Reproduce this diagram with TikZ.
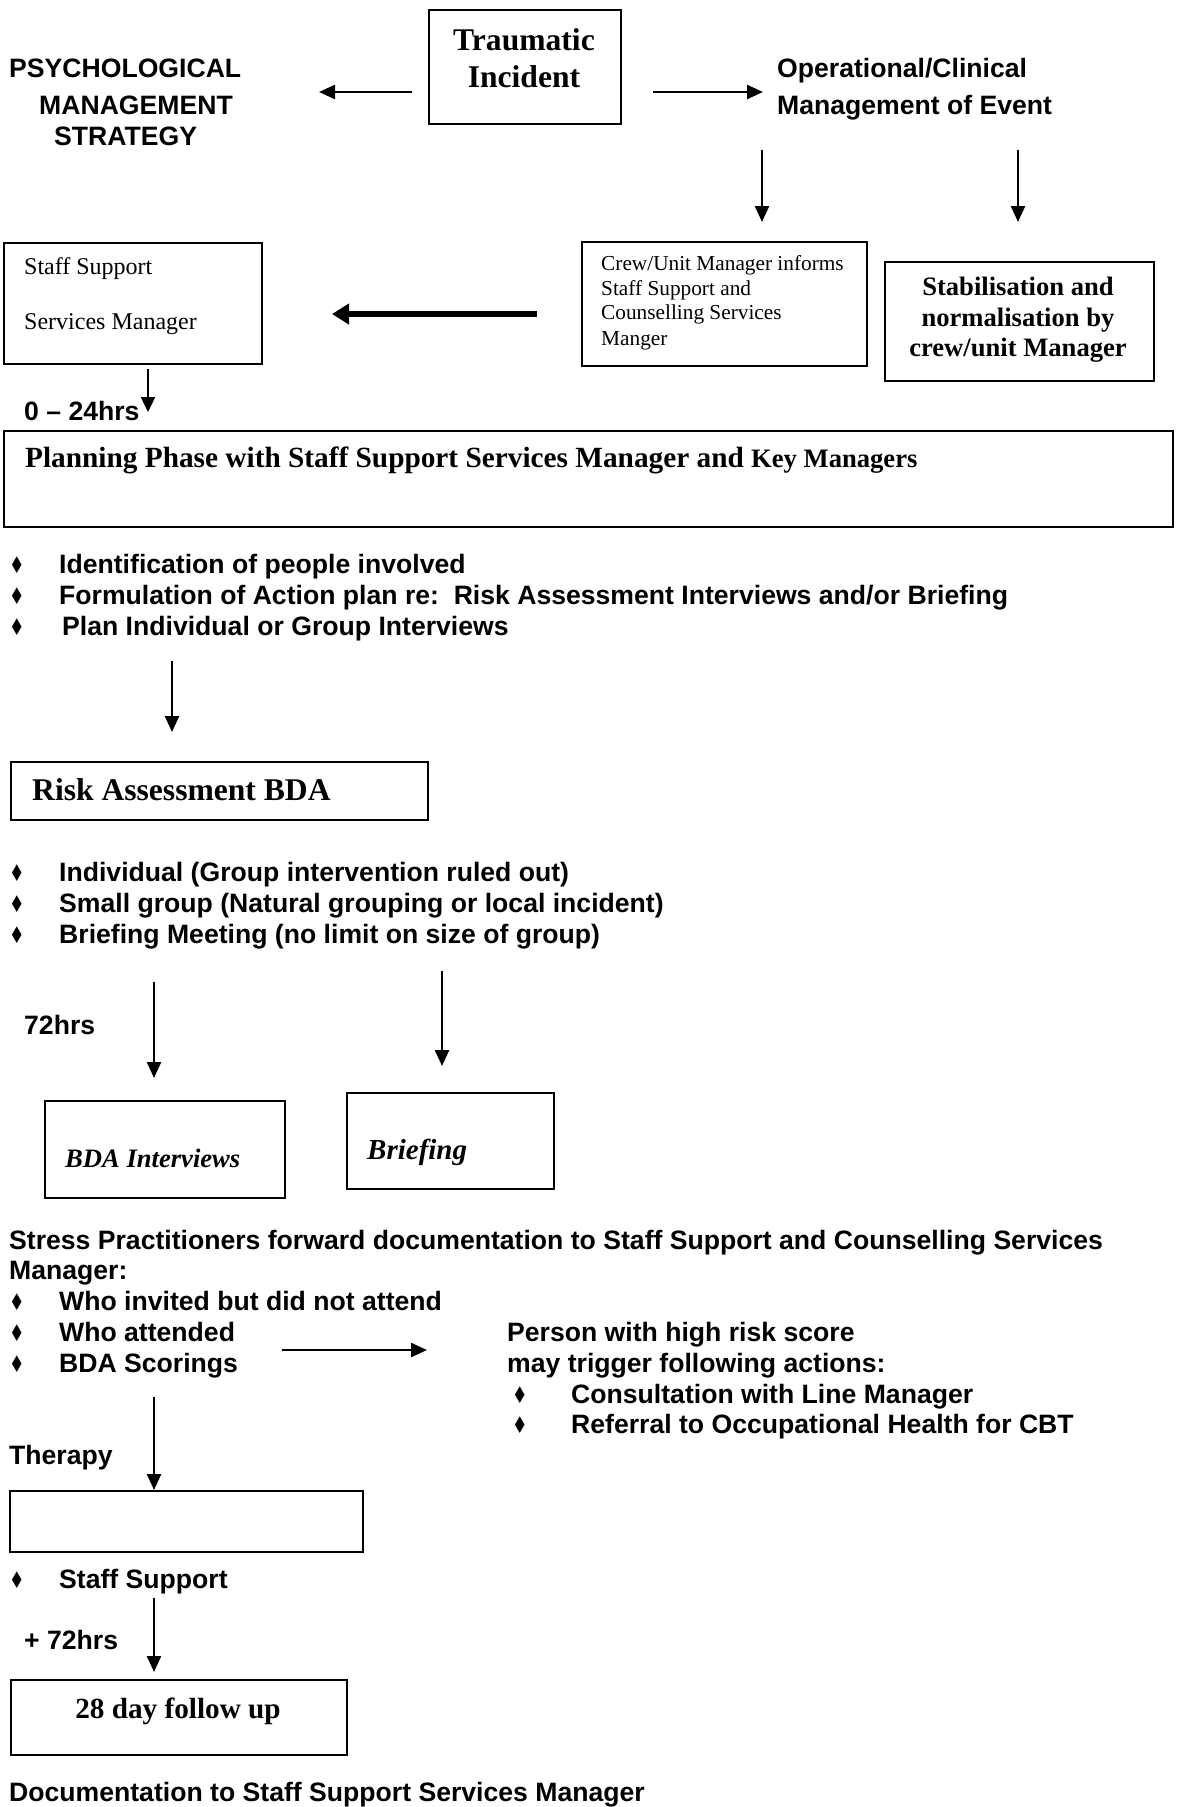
\documentclass[tikz,border=0pt]{standalone}
\usepackage{fontspec}
\usepackage{graphicx}
\setmainfont{Liberation Serif}
\setsansfont{Liberation Sans}
\newfontfamily\djv{DejaVu Sans}
\usetikzlibrary{arrows.meta}
\newcommand\dmd{{\djv\fontsize{23}{23}\selectfont\scalebox{0.75}[1]{♦}}}
\begin{document}
\begin{tikzpicture}[x=1pt,y=-1pt,
  box/.style={draw, line width=1.9pt, inner sep=0pt, anchor=north west},
  ar/.style={-{Triangle[length=16pt,width=14pt]}, line width=2.4pt},
  tar/.style={-{Triangle[length=17pt,width=20pt]}, line width=6.5pt},
  A/.style={inner sep=0pt, anchor=base west, font=\sffamily\bfseries\fontsize{26.6}{30}\selectfont},
  TB/.style={inner sep=0pt, anchor=base west, font=\rmfamily\bfseries\fontsize{26.6}{30.7}\selectfont},
  TR/.style={inner sep=0pt, anchor=base west, font=\rmfamily\fontsize{21.3}{25}\selectfont},
  TBI/.style={inner sep=0pt, anchor=base west, font=\rmfamily\bfseries\itshape\fontsize{26.6}{30}\selectfont},
  BL/.style={inner sep=0pt, anchor=base west}
]
\useasboundingbox (0,0) rectangle (1176,1807);

% ---- top row
\node[box, minimum width=192pt, minimum height=114pt] (ti) at (428,9) {};
\node[TB, font=\rmfamily\bfseries\fontsize{31.6}{37}\selectfont, anchor=base] (tit1) at (524,50) {Traumatic};
\node[TB, font=\rmfamily\bfseries\fontsize{31.6}{37}\selectfont, anchor=base] (tit2) at (524,87) {Incident};

\node[A] (ps1) at (9,77) {PSYCHOLOGICAL};
\node[A] (ps2) at (39,114) {MANAGEMENT};
\node[A] (ps3) at (54,145) {STRATEGY};

\node[A] (op1) at (777,77) {Operational/Clinical};
\node[A] (op2) at (777,114) {Management of Event};

\coordinate (a1s) at (412,92); \coordinate (a1e) at (319,92);
\coordinate (a2s) at (653,92); \coordinate (a2e) at (763,92);
\draw[ar] (a1s) -- (a1e);
\draw[ar] (a2s) -- (a2e);

\coordinate (a3s) at (762,150); \coordinate (a3e) at (762,222);
\coordinate (a4s) at (1018,150); \coordinate (a4e) at (1018,222);
\draw[ar] (a3s) -- (a3e);
\draw[ar] (a4s) -- (a4e);

% ---- second row
\node[box, minimum width=258pt, minimum height=121pt] (ss) at (3,242) {};
\node[TR, font=\rmfamily\fontsize{24}{28}\selectfont] (ss1) at (24,274) {Staff Support};
\node[TR, font=\rmfamily\fontsize{24}{28}\selectfont] (ss2) at (24,329) {Services Manager};

\node[box, minimum width=285pt, minimum height=124pt] (cr) at (581,241) {};
\node[TR] (cr1) at (601,270) {Crew/Unit Manager informs};
\node[TR] (cr2) at (601,295) {Staff Support and};
\node[TR] (cr3) at (601,319) {Counselling Services};
\node[TR] (cr4) at (601,345) {Manger};

\node[box, minimum width=269pt, minimum height=119pt] (st) at (884,261) {};
\node[TB, anchor=base] (st1) at (1018,295) {Stabilisation and};
\node[TB, anchor=base] (st2) at (1018,326) {normalisation by};
\node[TB, anchor=base] (st3) at (1018,356) {crew/unit Manager};

\coordinate (tks) at (537,314); \coordinate (tke) at (332,314);
\draw[tar] (tks) -- (tke);

\coordinate (a5e) at (148,412);
\draw[ar, -{Triangle[length=15pt,width=14pt]}] (ss.south -| a5e) ++(0,4) -- (a5e);
\node[A] (h24) at (24,420) {0 – 24hrs};

% ---- planning
\node[box, minimum width=1169pt, minimum height=96pt] (pl) at (3,430) {};
\node[TB, font=\rmfamily\bfseries\fontsize{29.3}{33}\selectfont] (pl1) at (25,467) {Planning Phase with Staff Support Services Manager and \fontsize{26.6}{30}\selectfont Key Managers};

\node[BL] (b11) at (9,573) {\dmd};
\node[A] (t11) at (59,573) {Identification of people involved};
\node[BL] (b12) at (9,604) {\dmd};
\node[A] (t12) at (59,604) {Formulation of Action plan re:\ \ Risk Assessment Interviews and/or Briefing};
\node[BL] (b13) at (9,635) {\dmd};
\node[A] (t13) at (62,635) {Plan Individual or Group Interviews};

\coordinate (a6s) at (172,661); \coordinate (a6e) at (172,732);
\draw[ar] (a6s) -- (a6e);

% ---- risk assessment
\node[box, minimum width=417pt, minimum height=58pt] (ra) at (10,761) {};
\node[TB, font=\rmfamily\bfseries\fontsize{31.6}{36}\selectfont] (ra1) at (32,800) {Risk Assessment BDA};

\node[BL] (b21) at (9,881) {\dmd};
\node[A] (t21) at (59,881) {Individual (Group intervention ruled out)};
\node[BL] (b22) at (9,912) {\dmd};
\node[A] (t22) at (59,912) {Small group (Natural grouping or local incident)};
\node[BL] (b23) at (9,943) {\dmd};
\node[A] (t23) at (59,943) {Briefing Meeting (no limit on size of group)};

\node[A] (h72) at (24,1034) {72hrs};
\coordinate (a7s) at (154,982); \coordinate (a7e) at (154,1078);
\coordinate (a8s) at (442,971); \coordinate (a8e) at (442,1066);
\draw[ar] (a7s) -- (a7e);
\draw[ar] (a8s) -- (a8e);

\node[box, minimum width=240pt, minimum height=97pt] (bi) at (44,1100) {};
\node[TBI] (bi1) at (65,1167) {BDA Interviews};
\node[box, minimum width=207pt, minimum height=96pt] (br) at (346,1092) {};
\node[TBI, font=\rmfamily\bfseries\itshape\fontsize{29}{33}\selectfont] (br1) at (367,1159) {Briefing};

% ---- documentation
\node[A] (sp1) at (9,1249) {Stress Practitioners forward documentation to Staff Support and Counselling Services};
\node[A] (sp2) at (9,1279) {Manager:};
\node[BL] (b31) at (9,1310) {\dmd};
\node[A] (t31) at (59,1310) {Who invited but did not attend};
\node[BL] (b32) at (9,1341) {\dmd};
\node[A] (t32) at (59,1341) {Who attended};
\node[BL] (b33) at (9,1372) {\dmd};
\node[A] (t33) at (59,1372) {BDA Scorings};

\coordinate (a9s) at (282,1350); \coordinate (a9e) at (427,1350);
\draw[ar] (a9s) -- (a9e);

\node[A] (pr1) at (507,1341) {Person with high risk score};
\node[A] (pr2) at (507,1372) {may trigger following actions:};
\node[BL] (b41) at (512,1403) {\dmd};
\node[A] (t41) at (571,1403) {Consultation with Line Manager};
\node[BL] (b42) at (512,1433) {\dmd};
\node[A] (t42) at (571,1433) {Referral to Occupational Health for CBT};

\node[A] (th) at (9,1464) {Therapy};
\node[box, minimum width=353pt, minimum height=61pt] (tb) at (9,1490) {};
\coordinate (a10s) at (154,1397);
\draw[ar] (a10s) -- (a10s |- tb.north);

\node[BL] (b51) at (9,1588) {\dmd};
\node[A] (t51) at (59,1588) {Staff Support};

\node[A] (p72) at (24,1649) {+ 72hrs};
\coordinate (a11s) at (154,1598); \coordinate (a11e) at (154,1672);
\draw[ar] (a11s) -- (a11e);

\node[box, minimum width=336pt, minimum height=75pt] (fu) at (10,1679) {};
\node[TB, font=\rmfamily\bfseries\fontsize{29.2}{33}\selectfont, anchor=base] (fu1) at (178,1718) {28 day follow up};

\node[A] (dc) at (9,1801) {Documentation to Staff Support Services Manager};
\end{tikzpicture}
\end{document}
